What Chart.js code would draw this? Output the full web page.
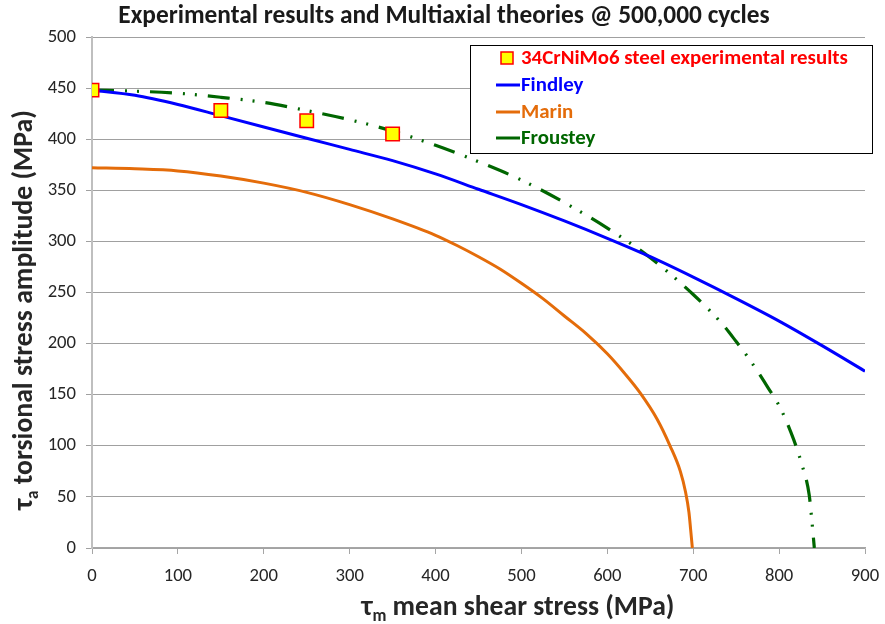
<!DOCTYPE html>
<html>
<head>
<meta charset="utf-8">
<script src="https://cdn.jsdelivr.net/npm/chart.js@4.4.1/dist/chart.umd.min.js"></script>
<style>
  html, body { margin: 0; padding: 0; background: #ffffff; }
  #wrap { width: 885px; height: 624px; }
</style>
</head>
<body>
<div id="wrap"><canvas id="c" width="885" height="624"></canvas></div>
<script>
// ---------------- data ----------------
const chartTitle = "Experimental results and Multiaxial theories @ 500,000 cycles";
const xTicks = [0, 100, 200, 300, 400, 500, 600, 700, 800, 900];
const yTicks = [0, 50, 100, 150, 200, 250, 300, 350, 400, 450, 500];

const expLabel = "34CrNiMo6 steel experimental results";
const expX = [0, 150, 250, 350];
const expY = [448, 428, 418, 405];

const findleyLabel = "Findley";
const findleyX = [0, 50, 100, 150, 200, 250, 300, 350, 400, 450, 500, 550, 600, 650, 700, 750, 800, 850, 900];
const findleyY = [448, 443, 434, 423, 412, 401, 390, 379, 366, 351, 336, 320, 303, 285, 265, 244, 222, 198, 173];

const marinLabel = "Marin";
const marinX = [0, 50, 100, 150, 200, 250, 300, 350, 400, 425, 450, 475, 500, 525, 550, 575, 600, 620, 638, 658, 673, 685, 691, 695, 697, 699];
const marinY = [372, 371, 369, 364, 357, 348, 336, 322, 306, 296, 285, 273, 259, 244, 227, 210, 190, 171, 152, 126, 100, 75, 55, 35, 18, 0];

const frousteyLabel = "Froustey";
const frousteyX = [0, 50, 100, 150, 200, 250, 300, 350, 400, 450, 500, 550, 600, 650, 700, 733, 750, 766, 787, 802, 817, 826, 835, 838, 841];
const frousteyY = [448, 447, 445, 441, 436, 428, 419, 408, 394, 378, 360, 338, 313, 284, 248, 220, 202, 184, 157, 136, 106, 83, 52, 28, 0];

// ---------------- helpers ----------------
function pts(xs, ys) { return xs.map((x, i) => ({ x: x, y: ys[i] })); }
const FONT = "Carlito, Calibri, Lato, sans-serif";

function fitSize(ctx, text, weight, target, base) {
  ctx.font = weight + " " + base + "px " + FONT;
  const w = ctx.measureText(text).width;
  return base * target / w;
}

function subWidth(ctx, sym, sub, rest, size) {
  ctx.font = "bold " + size + "px " + FONT; const w1 = ctx.measureText(sym).width;
  ctx.font = "bold " + (size * 0.62) + "px " + FONT; const w2 = ctx.measureText(sub).width;
  ctx.font = "bold " + size + "px " + FONT; const w3 = ctx.measureText(rest).width;
  return w1 + w2 + w3;
}

function drawSubText(ctx, sym, sub, rest, target, color) {
  let size = 24;
  size = size * target / subWidth(ctx, sym, sub, rest, size);
  ctx.fillStyle = color;
  ctx.textBaseline = "alphabetic";
  ctx.textAlign = "left";
  const big = "bold " + size + "px " + FONT;
  const small = "bold " + (size * 0.62) + "px " + FONT;
  ctx.font = big; const w1 = ctx.measureText(sym).width;
  ctx.font = small; const w2 = ctx.measureText(sub).width;
  ctx.font = big; const w3 = ctx.measureText(rest).width;
  const total = w1 + w2 + w3;
  let x = -total / 2;
  const base = size * 0.33;
  ctx.font = big; ctx.fillText(sym, x, base); x += w1;
  ctx.font = small; ctx.fillText(sub, x, base + size * 0.2); x += w2;
  ctx.font = big; ctx.fillText(rest, x, base);
}

const decorPlugin = {
  id: "decor",
  afterDraw(chart) {
    const ctx = chart.ctx;
    ctx.save();
    // title
    const ts = fitSize(ctx, chartTitle, "bold", 652, 18);
    ctx.font = "bold " + ts + "px " + FONT;
    ctx.fillStyle = "#1a1a1a";
    ctx.textAlign = "center";
    ctx.textBaseline = "middle";
    ctx.fillText(chartTitle, 444, 17);

    // x axis title
    ctx.save();
    ctx.translate(518, 606);
    drawSubText(ctx, "\u03C4", "m", " mean shear stress (MPa)", 313, "#262626");
    ctx.restore();

    // y axis title
    ctx.save();
    ctx.translate(23, 310);
    ctx.rotate(-Math.PI / 2);
    drawSubText(ctx, "\u03C4", "a", " torsional stress amplitude (MPa)", 400, "#262626");
    ctx.restore();

    // legend
    const lx = 470.5, ly = 45.5, lw = 402, lh = 108;
    ctx.fillStyle = "#ffffff";
    ctx.fillRect(lx, ly, lw, lh);
    ctx.strokeStyle = "#000000";
    ctx.lineWidth = 1;
    ctx.strokeRect(lx, ly, lw, lh);
    const ds = chart.data.datasets;
    const ls = fitSize(ctx, ds[0].label, "bold", 327, 18);
    ctx.font = "bold " + ls + "px " + FONT;
    ctx.textAlign = "left";
    ctx.textBaseline = "middle";
    const rows = [58, 85, 112, 138];
    ctx.fillStyle = ds[0].backgroundColor;
    ctx.strokeStyle = ds[0].borderColor;
    ctx.lineWidth = 1.5;
    ctx.fillRect(501, rows[0] - 6, 12, 12);
    ctx.strokeRect(501, rows[0] - 6, 12, 12);
    ctx.fillStyle = "#ff0000";
    ctx.fillText(ds[0].label, 521, rows[0] + 1);
    for (let i = 1; i < 4; i++) {
      ctx.strokeStyle = ds[i].borderColor;
      ctx.lineWidth = 3;
      ctx.setLineDash([]);
      ctx.beginPath();
      ctx.moveTo(496, rows[i]);
      ctx.lineTo(520, rows[i]);
      ctx.stroke();
      ctx.fillStyle = ds[i].borderColor;
      ctx.fillText(ds[i].label, 521, rows[i] + 1);
    }
    ctx.restore();
  }
};

const ctx = document.getElementById("c").getContext("2d");
new Chart(ctx, {
  type: "scatter",
  data: {
    datasets: [
      {
        label: expLabel,
        data: pts(expX, expY),
        showLine: false,
        pointStyle: "rect",
        pointRadius: 9.5,
        pointHoverRadius: 9.5,
        backgroundColor: "#ffff00",
        borderColor: "#ff0000",
        borderWidth: 1.5
      },
      {
        label: findleyLabel,
        data: pts(findleyX, findleyY),
        showLine: true,
        borderColor: "#0000ff",
        backgroundColor: "#0000ff",
        borderWidth: 3,
        pointRadius: 0,
        cubicInterpolationMode: "monotone"
      },
      {
        label: marinLabel,
        data: pts(marinX, marinY),
        showLine: true,
        borderColor: "#e46c0a",
        backgroundColor: "#e46c0a",
        borderWidth: 3,
        pointRadius: 0,
        cubicInterpolationMode: "monotone"
      },
      {
        label: frousteyLabel,
        data: pts(frousteyX, frousteyY),
        showLine: true,
        borderColor: "#006600",
        backgroundColor: "#006600",
        borderWidth: 3.2,
        borderDash: [22, 11, 2, 10, 2, 11],
        pointRadius: 0,
        cubicInterpolationMode: "monotone"
      }
    ]
  },
  options: {
    responsive: false,
    animation: false,
    layout: { padding: { top: 37, right: 20, left: 0, bottom: 0 } },
    plugins: {
      legend: { display: false },
      title: { display: false },
      tooltip: { enabled: false }
    },
    scales: {
      x: {
        type: "linear",
        min: 0,
        max: 900,
        afterFit(s) { s.height = 76; s.paddingRight = 0; s.paddingLeft = 0; },
        afterBuildTicks(s) { s.ticks = xTicks.map(v => ({ value: v })); },
        grid: {
          drawOnChartArea: false,
          drawTicks: true,
          tickLength: 6,
          color: "#a6a6a6",
          lineWidth: 1
        },
        border: { color: "#a6a6a6", width: 1.5 },
        ticks: {
          color: "#262626",
          font: { family: FONT, size: 18.67 },
          padding: 11,
          maxRotation: 0
        }
      },
      y: {
        type: "linear",
        min: 0,
        max: 500,
        afterFit(s) { s.width = 92; s.paddingTop = 0; s.paddingBottom = 0; },
        afterBuildTicks(s) { s.ticks = yTicks.map(v => ({ value: v })); },
        grid: {
          drawOnChartArea: true,
          drawTicks: true,
          tickLength: 6,
          color: "#a0a0a0",
          lineWidth: 1
        },
        border: { color: "#bfbfbf", width: 2 },
        ticks: {
          color: "#262626",
          font: { family: FONT, size: 18.67 },
          padding: 10
        }
      }
    }
  },
  plugins: [decorPlugin]
});
</script>
</body>
</html>
